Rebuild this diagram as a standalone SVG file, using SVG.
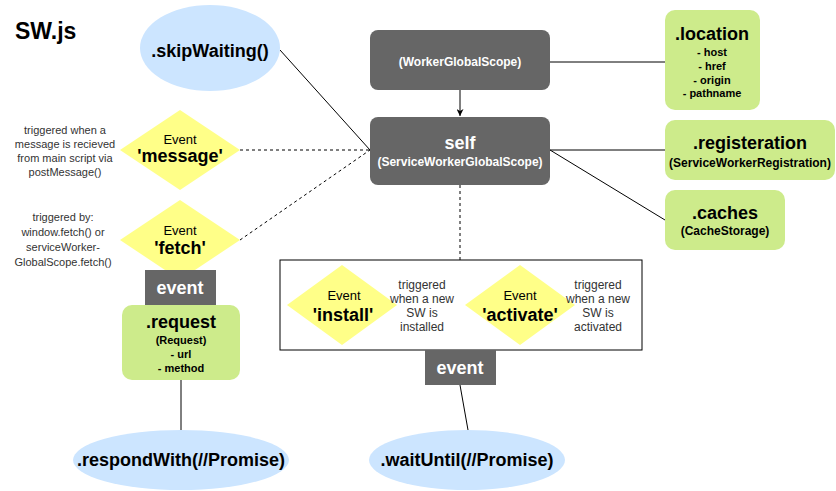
<svg xmlns="http://www.w3.org/2000/svg" width="836" height="491" viewBox="0 0 836 491">
<defs>
<marker id="arr" viewBox="0 0 10 10" refX="10" refY="5" markerWidth="7" markerHeight="7" orient="auto" markerUnits="userSpaceOnUse">
<path d="M0,0 L10,5 L0,10 L3,5 Z" fill="#000"/>
</marker>
</defs>
<style>
text{font-family:"Liberation Sans",Arial,sans-serif;text-anchor:middle}
.dark{fill:#666666}
.green{fill:#cdeb8b}
.blue{fill:#cce5ff}
.yellow{fill:#ffff88}
.big{font-size:18px;font-weight:bold;fill:#000}
.wbig{font-size:18px;font-weight:bold;fill:#fff}
.wsub{font-size:12px;font-weight:bold;fill:#fff}
.sub{font-size:12px;font-weight:bold;fill:#000}
.list{font-size:11px;font-weight:bold;fill:#000}
.ev{font-size:13px;fill:#000}
.note{font-size:11px;fill:#333}
.note12{font-size:12px;fill:#333}
.line{stroke:#000;stroke-width:1;fill:none}
.dash{stroke:#000;stroke-width:1;fill:none;stroke-dasharray:3 3}
</style>
<rect width="836" height="491" fill="#fff"/>
<text x="15" y="39" style="font-size:23px;font-weight:bold;text-anchor:start">SW.js</text>

<g id="connectors">
<line class="line" x1="460" y1="90" x2="460" y2="116" marker-end="url(#arr)"/>
<line class="line" x1="550" y1="62" x2="665" y2="62"/>
<line class="line" x1="550" y1="150" x2="665" y2="150"/>
<line class="line" x1="550" y1="150" x2="665" y2="220"/>
<line class="line" x1="280" y1="50" x2="370" y2="150"/>
<line class="dash" x1="240" y1="150" x2="370" y2="150"/>
<line class="dash" x1="240" y1="240" x2="370" y2="150"/>
<line class="dash" x1="460" y1="185" x2="460" y2="260"/>
<line class="line" x1="181" y1="380" x2="181" y2="430"/>
<line class="line" x1="460" y1="385" x2="468" y2="430"/>
</g>

<g id="skipWaiting">
<ellipse class="blue" cx="210" cy="48" rx="70" ry="43"/>
<text class="big" x="210" y="57">.skipWaiting()</text>
</g>

<g id="workerGlobalScope">
<rect class="dark" x="370" y="30" width="180" height="60" rx="8"/>
<text class="wsub" x="460" y="66">(WorkerGlobalScope)</text>
</g>

<g id="self">
<rect class="dark" x="370" y="117" width="180" height="68" rx="8"/>
<text class="wbig" x="460" y="149">self</text>
<text class="wsub" x="460" y="166">(ServiceWorkerGlobalScope)</text>
</g>

<g id="location">
<rect class="green" x="665" y="10" width="95" height="100" rx="10"/>
<text class="big" x="712" y="40">.location</text>
<text class="list" x="712" y="56">- host</text>
<text class="list" x="712" y="70">- href</text>
<text class="list" x="712" y="84">- origin</text>
<text class="list" x="712" y="97">- pathname</text>
</g>

<g id="registeration">
<rect class="green" x="665" y="120" width="170" height="60" rx="10"/>
<text class="big" x="750" y="149">.registeration</text>
<text class="sub" x="750" y="167">(ServiceWorkerRegistration)</text>
</g>

<g id="caches">
<rect class="green" x="665" y="190" width="120" height="60" rx="10"/>
<text class="big" x="725" y="219">.caches</text>
<text class="sub" x="725" y="235">(CacheStorage)</text>
</g>

<g id="messageNote">
<text class="note" x="65" y="134">triggered when a</text>
<text class="note" x="65" y="148">message is recieved</text>
<text class="note" x="65" y="162">from main script via</text>
<text class="note" x="65" y="176">postMessage()</text>
</g>

<g id="messageEvent">
<polygon class="yellow" points="180,110 240,150 180,190 120,150"/>
<text class="ev" x="180" y="144">Event</text>
<text class="big" x="180" y="162">'message'</text>
</g>

<g id="fetchNote">
<text class="note" x="63" y="221">triggered by:</text>
<text class="note" x="63" y="236">window.fetch() or</text>
<text class="note" x="63" y="251">serviceWorker-</text>
<text class="note" x="63" y="266">GlobalScope.fetch()</text>
</g>

<g id="fetchEvent">
<polygon class="yellow" points="180,200 240,240 180,280 120,240"/>
<text class="ev" x="180" y="235">Event</text>
<text class="big" x="180" y="254">'fetch'</text>
</g>

<g id="fetchEventLabel">
<rect class="dark" x="145" y="270" width="71" height="35"/>
<text class="wbig" x="180" y="294">event</text>
</g>

<g id="request">
<rect class="green" x="122" y="305" width="118" height="75" rx="10"/>
<text class="big" x="181" y="328">.request</text>
<text class="list" x="181" y="344">(Request)</text>
<text class="list" x="181" y="358">- url</text>
<text class="list" x="181" y="372">- method</text>
</g>

<g id="respondWith">
<ellipse class="blue" cx="181" cy="460" rx="108" ry="30"/>
<text class="big" x="181" y="466">.respondWith(//Promise)</text>
</g>

<g id="lifecycle">
<rect x="280" y="260" width="362" height="90" fill="#fff" stroke="#000" stroke-width="1"/>
</g>

<g id="installEvent">
<polygon class="yellow" points="342,265 397,305 342,345 287,305"/>
<text class="ev" x="344" y="300">Event</text>
<text class="big" x="343" y="321">'install'</text>
</g>

<g id="installNote">
<text class="note12" x="422" y="289">triggered</text>
<text class="note12" x="422" y="303">when a new</text>
<text class="note12" x="422" y="317">SW is</text>
<text class="note12" x="422" y="331">installed</text>
</g>

<g id="activateEvent">
<polygon class="yellow" points="520,265 575,305 520,345 465,305"/>
<text class="ev" x="520" y="300">Event</text>
<text class="big" x="520" y="321">'activate'</text>
</g>

<g id="activateNote">
<text class="note12" x="598" y="289">triggered</text>
<text class="note12" x="598" y="303">when a new</text>
<text class="note12" x="598" y="317">SW is</text>
<text class="note12" x="598" y="331">activated</text>
</g>

<g id="lifecycleEventLabel">
<rect class="dark" x="425" y="350" width="71" height="35"/>
<text class="wbig" x="460" y="374">event</text>
</g>

<g id="waitUntil">
<ellipse class="blue" cx="467" cy="460" rx="98" ry="30"/>
<text class="big" x="467" y="466">.waitUntil(//Promise)</text>
</g>
</svg>
